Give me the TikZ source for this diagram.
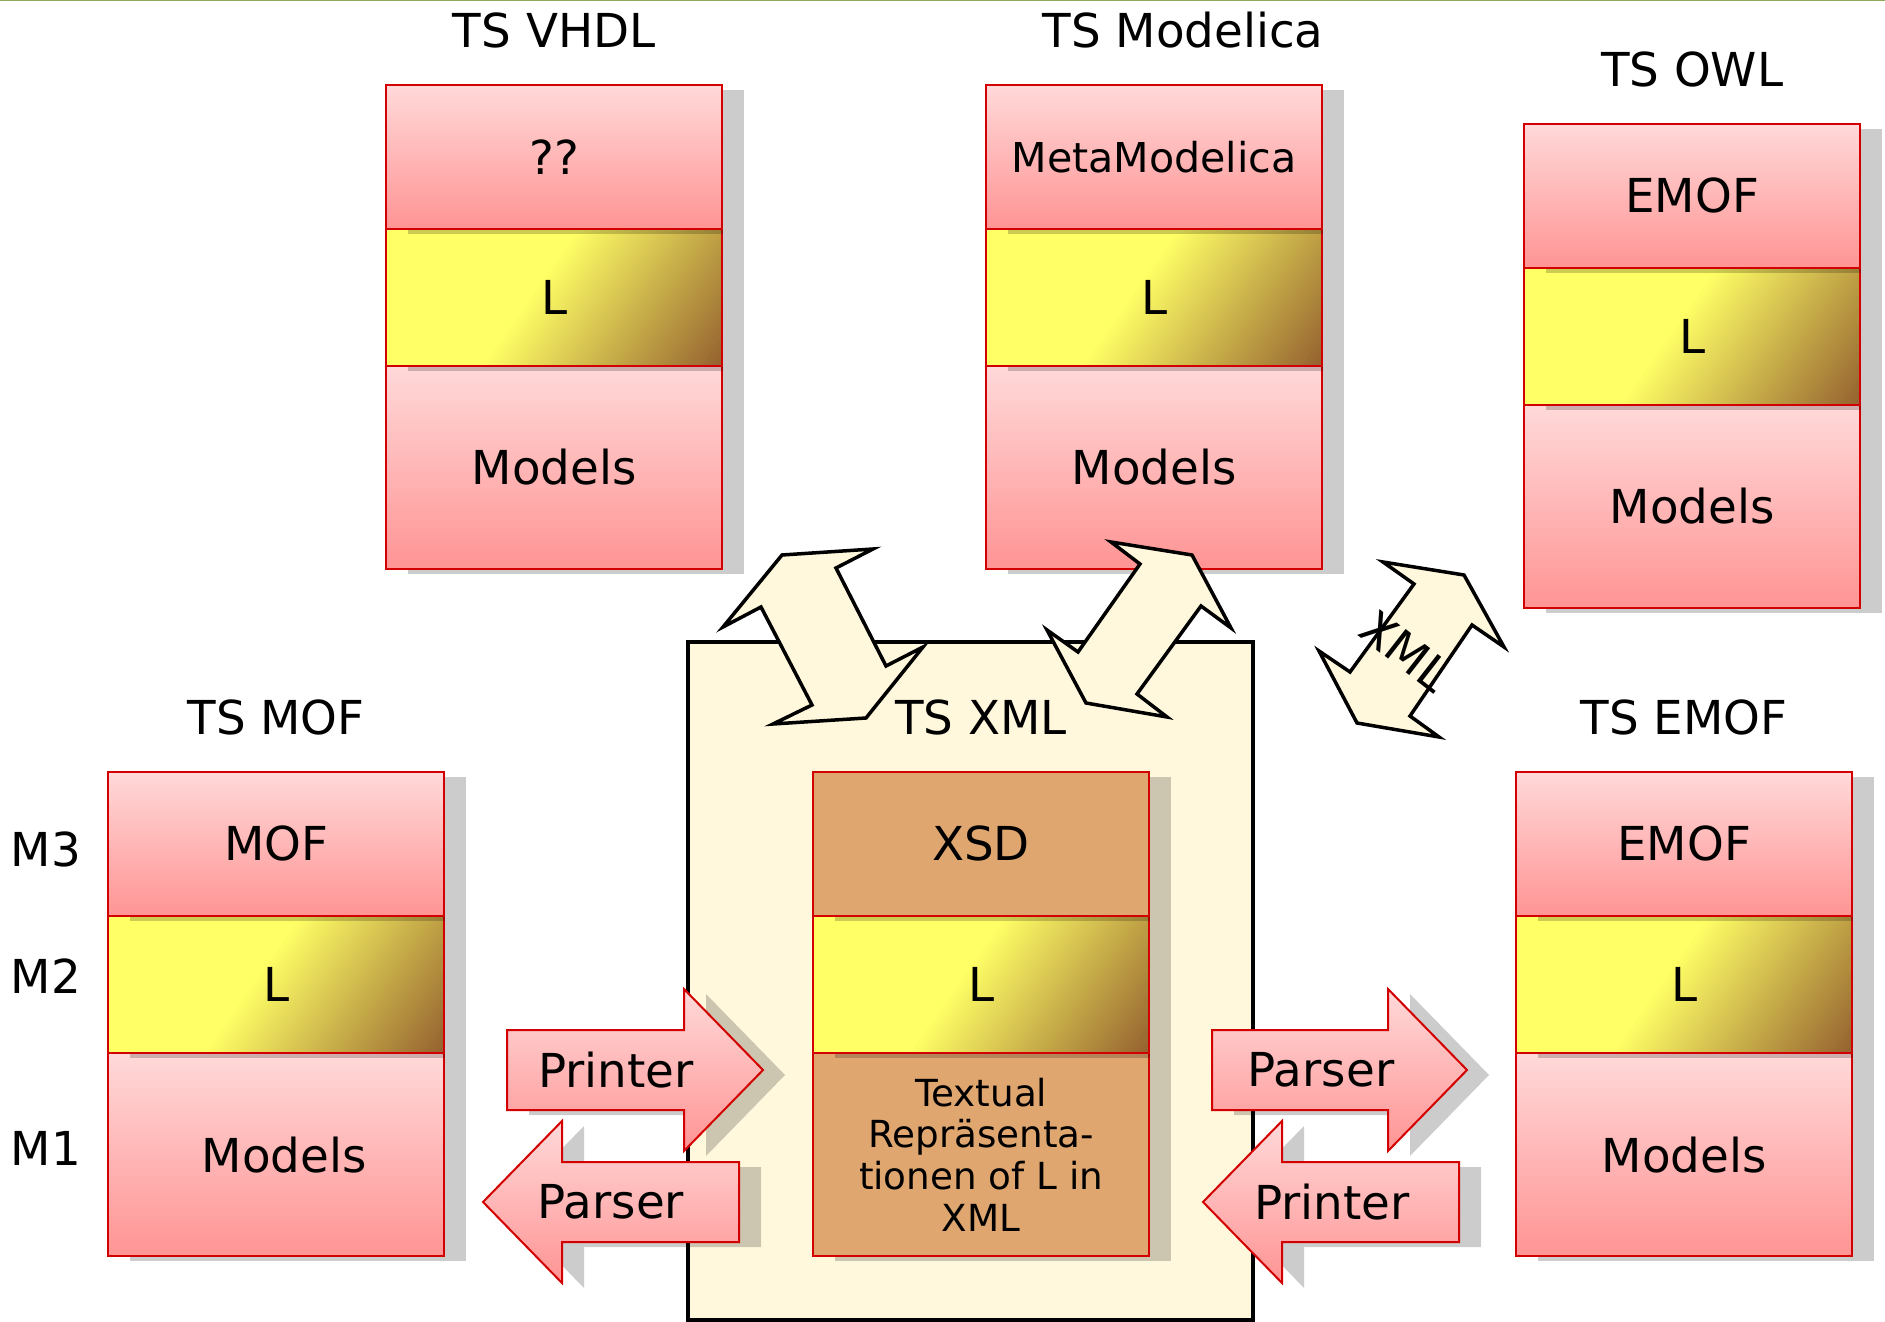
\documentclass[tikz,border=0pt]{standalone}
\usepackage{fontspec}
\setmainfont{DejaVu Sans}
\usetikzlibrary{positioning,shadows}
\definecolor{rowred}{RGB}{210,0,0}
\definecolor{lyellow}{RGB}{255,255,102}
\definecolor{lbrown}{RGB}{150,100,48}
\definecolor{xsdtan}{RGB}{224,166,112}
\definecolor{xmlcream}{RGB}{255,248,220}
\definecolor{topgreen}{RGB}{140,170,90}
% one band of the L gradient, between positions #1 and #2 along the diagonal
\newcommand{\lstrip}[3]{\fill[#3] ({0.819*#1+114.8},{0.574*#1-163.8}) -- ({0.819*#2+114.8},{0.574*#2-163.8}) -- ({0.819*#2-114.8},{0.574*#2+163.8}) -- ({0.819*#1-114.8},{0.574*#1+163.8}) -- cycle;}
\tikzset{
  tsrow/.style={rectangle, inner sep=0pt, outer sep=0pt, minimum width=3.36cm, draw=rowred, line width=0.02cm,
    drop shadow={shadow xshift=0.22cm, shadow yshift=-0.05cm, fill=black, opacity=0.2}},
  redrow/.style={tsrow, top color=red!15, bottom color=red!42},
  lrow/.style={tsrow, minimum height=1.37cm, path picture={
    \begin{scope}[shift={(path picture bounding box.center)}]
      \lstrip{-260}{-21}{lyellow}
      \foreach \i in {0,...,49}{
        \pgfmathsetmacro\pa{-21.5+\i*3.96}
        \pgfmathsetmacro\pb{\pa+4.6}
        \pgfmathsetmacro\pc{\i*100/49}
        \lstrip{\pa}{\pb}{lbrown!\pc!lyellow}
      }
      \lstrip{176}{260}{lbrown}
    \end{scope}
  }},
  tanrow/.style={tsrow, fill=xsdtan},
  toprow/.style={minimum height=1.44cm},
  modrow/.style={minimum height=2.03cm},
  stacktitle/.style={above=0.37cm of #1, anchor=base},
  blockarr/.style={draw=rowred, line width=0.02cm, top color=red!15, bottom color=red!42},
  arrshadow/.style={fill=black, opacity=0.2, shift={(22,5)}},
  dblarr/.style={draw=black, fill=xmlcream, line width=0.035cm}
}
% name, tail x, head base x, tip x, mid y, text x, text
\newcommand{\blockarrow}[7]{%
  \fill[arrshadow] (#2,{#5-40}) -- (#3,{#5-40}) -- (#3,{#5-81}) -- (#4,#5) -- (#3,{#5+81}) -- (#3,{#5+40}) -- (#2,{#5+40}) -- cycle;
  \draw[blockarr] (#2,{#5-40}) -- (#3,{#5-40}) -- (#3,{#5-81}) -- (#4,#5) -- (#3,{#5+81}) -- (#3,{#5+40}) -- (#2,{#5+40}) -- cycle;
  \node (#1) at (#6,#5) {#7};
}
\begin{document}
\begin{tikzpicture}[x=0.01cm, y=-0.01cm, font=\fontsize{13.3}{16}\selectfont, line join=miter]
\useasboundingbox (0,0) rectangle (1885,1322);
\draw[topgreen, line width=0.015cm] (0,0.75) -- (1885,0.75);

% TS XML frame
\draw[draw=black, fill=xmlcream, line width=0.035cm] (688,642) rectangle (1253,1320);

% TS VHDL
\node[redrow, modrow, anchor=north west] (vhdlM1) at (386,366) {Models};
\node[lrow, above=0pt of vhdlM1] (vhdlM2) {L};
\node[redrow, toprow, above=0pt of vhdlM2] (vhdlM3) {??};
\node[stacktitle=vhdlM3] (vhdlT) {TS VHDL};

% TS Modelica
\node[redrow, modrow, anchor=north west] (modM1) at (986,366) {Models};
\node[lrow, above=0pt of modM1] (modM2) {L};
\node[redrow, toprow, above=0pt of modM2, font=\fontsize{11.7}{14}\selectfont] (modM3) {MetaModelica};
\node[stacktitle=modM3, xshift=0.29cm] (modT) {TS Modelica};

% TS OWL
\node[redrow, modrow, anchor=north west] (owlM1) at (1524,405) {Models};
\node[lrow, above=0pt of owlM1] (owlM2) {L};
\node[redrow, toprow, above=0pt of owlM2] (owlM3) {EMOF};
\node[stacktitle=owlM3] (owlT) {TS OWL};

% TS MOF
\node[redrow, modrow, anchor=north west, text width=3.36cm, align=center] (mofM1) at (108,1053) {\hspace*{0.16cm}Models};
\node[lrow, above=0pt of mofM1] (mofM2) {L};
\node[redrow, toprow, above=0pt of mofM2] (mofM3) {MOF};
\node[stacktitle=mofM3] (mofT) {TS MOF};
\node (m3) at (46,849) {M3};
\node (m2) at (46,976) {M2};
\node (m1) at (46,1148) {M1};

% TS XML
\node[tanrow, modrow, anchor=north west, align=center, font=\fontsize{10.6}{11.85}\selectfont] (xmlM1) at (813,1053) {Textual\\Repräsenta-\\tionen of L in\\XML};
\node[lrow, above=0pt of xmlM1] (xmlM2) {L};
\node[tanrow, toprow, above=0pt of xmlM2] (xmlM3) {XSD};

% TS EMOF
\node[redrow, modrow, anchor=north west] (emofM1) at (1516,1053) {Models};
\node[lrow, above=0pt of emofM1] (emofM2) {L};
\node[redrow, toprow, above=0pt of emofM2] (emofM3) {EMOF};
\node[stacktitle=emofM3] (emofT) {TS EMOF};

% exchange arrows
\draw[dblarr] (782,555) -- (873,549) -- (836,568) -- (886,666) -- (923,647) -- (866,718) -- (773,724) -- (812,705) -- (761,607) -- (723,627) -- cycle;
\draw[dblarr] (1111,542) -- (1192,555) -- (1231,628) -- (1201,606) -- (1137,694) -- (1167,717) -- (1086,703) -- (1047,630) -- (1078,652) -- (1140,564) -- cycle;
\draw[dblarr] (1383,562) -- (1464,575) -- (1504,647) -- (1472,625) -- (1410,716) -- (1439,737) -- (1357,723) -- (1319,651) -- (1350,672) -- (1414,584) -- cycle;
\node[rotate=-38] (xmlLbl) at (1406,651) {XML};
\node[stacktitle=xmlM3] (xmlT) {TS XML};

% printer / parser
\blockarrow{printL}{507}{684}{763}{1070}{616}{Printer}
\blockarrow{parseL}{739}{562}{483}{1202}{611}{Parser}
\blockarrow{parseR}{1212}{1388}{1467}{1070}{1321}{Parser}
\blockarrow{printR}{1459}{1282}{1203}{1202}{1332}{Printer}
\end{tikzpicture}
\end{document}
